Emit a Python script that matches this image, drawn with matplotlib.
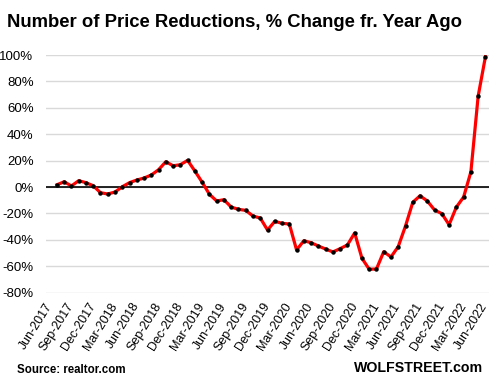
import numpy as np
import matplotlib
matplotlib.use("Agg")
import matplotlib.pyplot as plt

# monthly categories Jun-2017 .. Jun-2022 (first category has no value)
month_names = ["Jan", "Feb", "Mar", "Apr", "May", "Jun", "Jul", "Aug",
               "Sep", "Oct", "Nov", "Dec"]
labels = []
for i in range(61):
    m = (5 + i) % 12
    y = 2017 + (5 + i) // 12
    labels.append("%s-%d" % (month_names[m], y))

# % change from a year ago, Jul-2017 .. Jun-2022
pct_change = [1.7, 4.0, 0.8, 4.8, 3.3, 1.0, -4.3, -5.3, -3.8, 0.2,
              3.3, 5.3, 6.8, 9.1, 13.1, 19.2, 16.1, 16.9, 20.2, 12.1,
              3.6, -5.5, -10.6, -9.6, -15.2, -16.9, -17.7, -22.0, -23.5, -32.6,
              -26.0, -27.5, -28.0, -47.7, -40.7, -42.2, -44.7, -47.0, -49.2, -46.7,
              -43.9, -34.8, -54.0, -62.3, -62.1, -49.0, -53.0, -45.1, -29.5, -11.6,
              -6.6, -10.6, -17.4, -20.2, -28.6, -15.2, -7.6, 11.5, 68.9, 98.7]

yticks = [-80, -60, -40, -20, 0, 20, 40, 60, 80, 100]

plt.rcParams['font.family'] = ['Liberation Sans', 'DejaVu Sans']

fig = plt.figure(figsize=(4.92, 3.85), dpi=100)
ax = fig.add_axes([0.0935, 0.240, 0.9005, 0.617])

x = np.arange(1, 61)
ax.plot(x, pct_change, color='#ff0000', lw=2.3, zorder=3, clip_on=False,
        solid_joinstyle='round')
ax.plot(x, pct_change, 'o', color='black', ms=2.2, zorder=4, clip_on=False)

ax.set_xlim(-0.5, 60.5)
ax.set_ylim(-80, 100)
ax.set_yticks(yticks)
ax.set_yticklabels(["%d%%" % v for v in yticks], fontsize=9.5)
ax.grid(axis='y', color='#d9d9d9', lw=1)
ax.axhline(0, color='black', lw=1.2, zorder=2)

ticks = list(range(0, 61, 3))
ax.set_xticks(ticks)
ax.set_xticklabels([labels[t] for t in ticks], rotation=58, ha='right',
                   va='center', rotation_mode='anchor', fontsize=9)
ax.tick_params(length=0)
ax.tick_params(axis='y', pad=9)
ax.tick_params(axis='x', pad=8)
for s in ax.spines.values():
    s.set_visible(False)
ax.set_axisbelow(True)

fig.text(0.014, 0.942, "Number of Price Reductions, % Change fr. Year Ago",
         fontsize=13.3, fontweight='bold', va='center', ha='left')
fig.text(0.035, 0.040, "Source: realtor.com", fontsize=8.3, fontweight='bold',
         va='center', ha='left')
fig.text(0.982, 0.045, "WOLFSTREET.com", fontsize=10.2, fontweight='bold',
         va='center', ha='right')

fig.savefig("out.png", dpi=100)
